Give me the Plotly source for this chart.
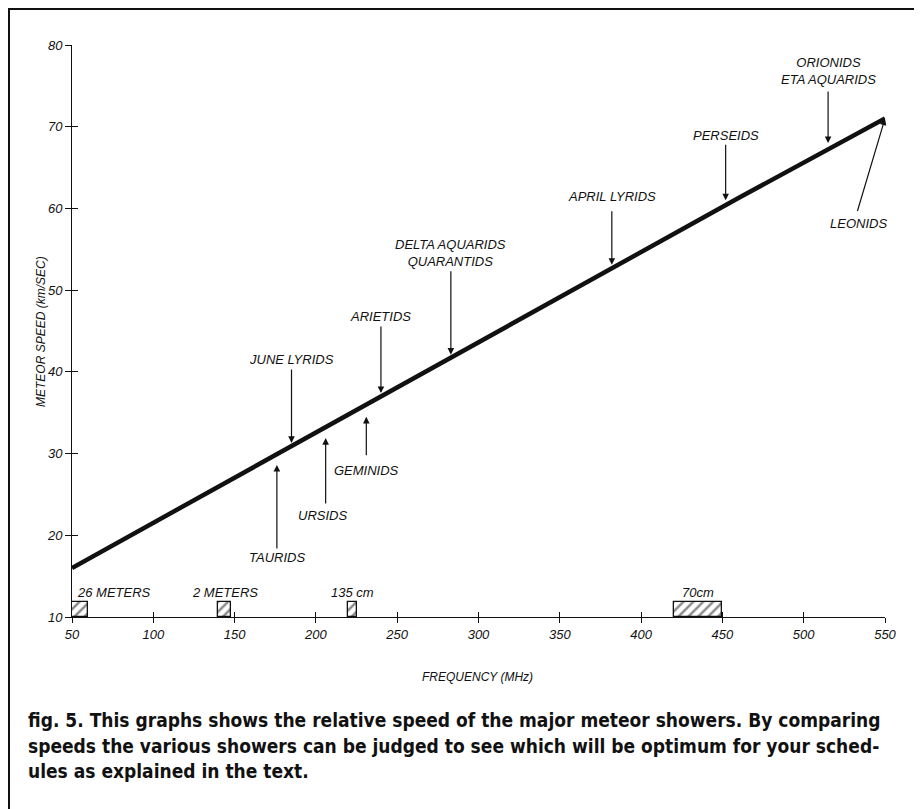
import plotly.graph_objects as go

# ---------------- data ----------------
freq_line = [50, 128, 300, 461, 550]           # MHz
speed_line = [16.0, 24.6, 43.5, 61.4, 71.0]    # km/sec

shower_names = ["ORIONIDS<br>ETA AQUARIDS", "LEONIDS", "PERSEIDS", "APRIL LYRIDS",
                "DELTA AQUARIDS<br>QUARANTIDS", "ARIETIDS", "JUNE LYRIDS",
                "GEMINIDS", "URSIDS", "TAURIDS"]
shower_freq = [515, 550, 452, 382, 283, 240, 185, 231, 206, 176]
shower_speed = [68.0, 71.0, 61.0, 53.1, 42.1, 37.4, 31.3, 34.5, 31.9, 28.6]

band_names = ["26 METERS", "2 METERS", "135 cm", "70cm"]
band_lo = [50, 140, 220, 420]
band_hi = [60, 148, 225, 450]
band_top = 11.8

x_ticks = [50, 100, 150, 200, 250, 300, 350, 400, 450, 500, 550]
y_ticks = [10, 20, 30, 40, 50, 60, 70, 80]

caption_lines = [
    "fig. 5. This graphs shows the relative speed of the major meteor showers. By comparing",
    "speeds the various showers can be judged to see which will be optimum for your sched-",
    "ules as explained in the text.",
]

# ---------------- layout geometry (pixels) ----------------
OFF = 8                      # page body margin
W, H = 922 - OFF, 809 - OFF
L, R, T, B = 72 - OFF, 37, 45 - OFF, 192
PW, PH = W - L - R, H - T - B


def px(xs):
    """screen x -> paper x"""
    return (xs - OFF - L) / PW


def py(ys):
    """screen y -> paper y"""
    return (H - B - (ys - OFF)) / PH


INK = "#111111"
LABEL_FONT = dict(family="Liberation Sans, Arial, sans-serif", size=13, color=INK, style="italic")

fig = go.Figure()

# frequency bands (hatched boxes)
fig.add_trace(go.Bar(
    x=[(a + b) / 2 for a, b in zip(band_lo, band_hi)],
    y=[band_top - 10 for _ in band_lo],
    base=10,
    width=[b - a for a, b in zip(band_lo, band_hi)],
    marker=dict(color="white", line=dict(color=INK, width=1.3),
                pattern=dict(shape="/", fgcolor=INK, bgcolor="white", size=7, solidity=0.35)),
    showlegend=False, hoverinfo="skip",
))

# speed line
fig.add_trace(go.Scatter(x=freq_line, y=speed_line, mode="lines",
                         line=dict(color=INK, width=4.5), showlegend=False))

# helper trace on overlay axes (for cross ticks)
fig.add_trace(go.Scatter(x=[50], y=[10], xaxis="x2", yaxis="y2", mode="markers",
                         marker=dict(opacity=0), showlegend=False, hoverinfo="skip"))

# arrow tail offsets / label shifts (pixel styling)
arrow_ax = [0, -28, 0, 0, 0, 0, 0, 0, 0, 0]
arrow_ay = [-53, 94, -57, -55, -85, -68, -75, 40, 67, 85]
label_xs = [0, -27, 0, 0, 0, 0, 0, 0, -3, 0]
label_ys = [72, -105, 65, 68, 102, 77, 83, -54, -77, -92]

annotations = []
for name, f, s, ax, ay, xs, ys in zip(shower_names, shower_freq, shower_speed,
                                      arrow_ax, arrow_ay, label_xs, label_ys):
    annotations.append(dict(x=f, y=s, xref="x", yref="y", text="", showarrow=True,
                            ax=ax, ay=ay, arrowhead=2, arrowsize=1.1, arrowwidth=1.2,
                            arrowcolor=INK))
    annotations.append(dict(x=f, y=s, xref="x", yref="y", text=name, showarrow=False,
                            xshift=xs, yshift=ys, font=LABEL_FONT, align="center"))

# band labels
for i, (name, a, b) in enumerate(zip(band_names, band_lo, band_hi)):
    if i == 0:
        annotations.append(dict(x=a, y=band_top, xref="x", yref="y", text=name,
                                showarrow=False, xanchor="left", xshift=3, yshift=10,
                                font=LABEL_FONT))
    else:
        annotations.append(dict(x=(a + b) / 2, y=band_top, xref="x", yref="y", text=name,
                                showarrow=False, xanchor="center", yshift=10,
                                font=LABEL_FONT))

TITLE_FONT = dict(family="Liberation Sans, Arial, sans-serif", size=12, color=INK, style="italic")
# axis titles
annotations.append(dict(x=px(32), y=py(332), xref="paper", yref="paper",
                        text="METEOR SPEED (km/SEC)", showarrow=False, textangle=-90,
                        font=TITLE_FONT))
annotations.append(dict(x=px(477), y=py(686), xref="paper", yref="paper",
                        text="FREQUENCY (MHz)", showarrow=False, font=TITLE_FONT))

# caption
for i, line in enumerate(caption_lines):
    annotations.append(dict(x=px(26), y=py(720 + 25.5 * i), xref="paper", yref="paper",
                            text="<b>" + line + "</b>", showarrow=False, xanchor="left",
                            yanchor="middle",
                            font=dict(family="Liberation Sans Narrow, DejaVu Sans Condensed, "
                                             "Roboto Condensed, Liberation Sans, sans-serif",
                                      size=19, color=INK)))

shapes = [dict(type="rect", xref="paper", yref="paper",
               x0=px(9), x1=px(918), y0=py(820), y1=py(9),
               line=dict(color=INK, width=2), fillcolor="rgba(0,0,0,0)", layer="below")]

axis_font = dict(family="Liberation Sans, Arial, sans-serif", size=13, color=INK, style="italic")

fig.update_layout(
    width=W, height=H, autosize=False,
    margin=dict(l=L, r=R, t=T, b=B, pad=0),
    paper_bgcolor="white", plot_bgcolor="white",
    showlegend=False, bargap=0,
    xaxis=dict(range=[50, 550], tickvals=x_ticks, ticks="outside", ticklen=5,
               tickcolor=INK, showline=True, linecolor=INK, linewidth=1,
               showgrid=False, zeroline=False, tickfont=axis_font, fixedrange=True),
    yaxis=dict(range=[10, 80], tickvals=y_ticks, ticks="outside", ticklen=6,
               tickcolor=INK, showline=True, linecolor=INK, linewidth=1,
               showgrid=False, zeroline=False, tickfont=axis_font, fixedrange=True),
    xaxis2=dict(range=[50, 550], tickvals=x_ticks, ticks="inside", ticklen=5,
                tickcolor=INK, overlaying="x", anchor="y2", side="bottom",
                showline=False, showgrid=False, zeroline=False, showticklabels=False),
    yaxis2=dict(range=[10, 80], tickvals=y_ticks, ticks="inside", ticklen=6,
                tickcolor=INK, overlaying="y", anchor="x2", side="left",
                showline=False, showgrid=False, zeroline=False, showticklabels=False),
    annotations=annotations,
    shapes=shapes,
)

fig.write_html("out.html")
